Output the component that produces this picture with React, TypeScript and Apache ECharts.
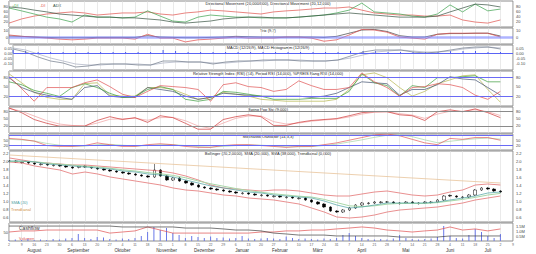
import React, { useEffect, useRef } from "react";
import * as echarts from "echarts";

// ---------- axis labels ----------
const WEEK_DAYS = ["2","9","16","23","30","6","13","20","27","4","11","18","25","1","8","15","22","29","6","13","20","27","3","10","17","24","31","7","14","21","28","7","14","21","28","4","11","18","25","2","9"];
const MONTH_NAMES = ["August","September","Oktober","November","Dezember","Januar","Februar","März","April","Mai","Juni","Juli"];
const MONTH_AT = [4, 11, 18, 25, 31, 37, 43, 49, 56, 63, 70, 76];

// ---------- panel 1: directional movement ----------
const P1_ADX = [77,73,65,58,50,46,42,38,38,35,35,31,27,19,15,19,23,31,35,38,38,35,35,38,42,46,50,54,50,46,42,38,38,38,42,58,73,88,85,77];
const P1_PDI = [73,62,50,38,31,19,46,38,38,35,38,62,42,23,19,38,46,42,38,38,35,35,35,38,42,46,54,65,92,58,54,50,42,38,50,85,58,88,62,69];
const P1_MDI = [15,31,42,50,54,58,54,46,50,54,54,58,50,46,54,58,65,62,58,54,50,58,62,65,69,73,73,77,65,54,50,46,46,42,42,46,27,19,15,27];

// ---------- panel 2: trix ----------
const P2_TRIX = [3,1,0,-1.5,-3,-4,-3,-1.5,-1.5,-1.5,-3,4,-1.5,-1.5,-7,-4,-3,-1.5,0,-1.5,-1.5,-1.5,0,0,-1.5,-6,-4,3,11,10,7,0,-1.5,-3,4,5.5,5.5,5.5,5.5,0];
const P2_SIGNAL = [1.5,1,0,-0.5,-1,-1,-1,-0.5,-0.5,-0.5,-0.5,2,0,-0.5,-1,-1,-0.5,0,1,0.5,0,0,0,0,0,-0.5,1,5.5,10,11,8,2,0,0,4,5,5,5.5,5.5,1.5];

// ---------- panel 3: MACD ----------
const P3_MACD = [0.04,0.01,-0.04,-0.08,-0.10,-0.14,-0.13,-0.11,-0.11,-0.11,-0.12,-0.12,-0.08,-0.08,-0.09,-0.09,-0.11,-0.09,-0.08,-0.08,-0.07,-0.07,-0.07,-0.08,-0.08,-0.08,-0.07,-0.03,0.01,0.03,0.03,0.03,0.01,0,0.01,0.03,0.05,0.06,0.06,0.04];
const P3_SIGNAL = [0.05,0.03,-0.01,-0.05,-0.08,-0.11,-0.12,-0.12,-0.11,-0.11,-0.11,-0.12,-0.10,-0.09,-0.09,-0.09,-0.10,-0.10,-0.09,-0.08,-0.08,-0.07,-0.07,-0.07,-0.08,-0.08,-0.07,-0.05,-0.02,0.01,0.02,0.03,0.02,0.01,0.01,0.02,0.04,0.05,0.06,0.05];
const P3_HIST = [0.03,0.02,0.01,0.01,0.01,0.01,0.01,0.01,0.01,0.01,0.01,0.01,0.03,0.02,0.01,0.01,0.01,0.01,0.01,0.01,0.01,0.01,0.01,0.01,0.01,0.01,0.01,0.02,0.02,0.02,0.01,0.01,0.01,0.01,0.01,0.02,0.02,0.02,0.01,0.01];

// ---------- panel 4: RSI family ----------
const P4_RSI = [82,45,5,48,48,48,63,72,51,27,17,36,54,51,48,42,5,57,63,51,48,36,42,69,54,42,42,48,94,66,48,21,48,51,60,57,48,24,11,36];
const P4_PERIOD = [66,57,39,30,20,48,60,48,30,17,20,42,51,42,11,5,11,36,33,27,21,11,11,11,14,14,14,36,91,63,54,21,54,48,79,79,82,85,66,66];
const P4_RANK = [91,63,33,17,11,11,60,63,24,21,21,48,48,42,27,11,17,33,27,21,11,8,5,5,5,5,11,42,88,94,79,48,21,36,60,72,85,88,42,2];
const P4_AVG = [79,48,33,24,17,11,48,54,21,17,17,48,42,36,21,11,17,30,27,24,21,21,21,21,17,21,30,48,66,63,60,24,42,42,57,82,75,72,48,24];

// ---------- panel 5: swing pop ----------
const P5_K = [96,76,47,31,19,19,19,43,59,47,55,35,63,55,31,6,6,47,59,67,59,22,22,35,43,47,51,63,76,80,80,67,63,43,80,88,80,92,76,55];
const P5_D = [94,82,62,42,28,22,20,32,48,50,52,44,55,56,42,20,10,32,52,62,62,38,28,32,40,45,49,58,70,78,80,72,66,52,70,82,82,88,80,64];

// ---------- panel 6: stochastic ----------
const P6_K = [60,55,45,20,15,15,20,35,25,15,15,25,30,25,15,10,10,20,25,25,20,15,10,15,15,25,35,50,65,80,85,75,55,35,25,60,55,65,65,50];
const P6_D = [55,52,46,32,22,17,17,25,27,22,17,20,25,25,20,14,11,15,20,23,22,18,13,13,14,20,28,40,52,66,78,80,70,52,36,44,52,58,62,56];

// ---------- panel 7: price ----------
const OPEN = [1.99,2.0,1.96,1.975,1.95,1.91,1.925,1.885,1.9,1.875,1.85,1.84,1.875,1.85,1.825,1.8,1.775,1.75,1.725,1.7,1.675,1.65,1.625,1.6,1.775,1.625,1.525,1.575,1.5,1.45,1.4,1.35,1.325,1.3,1.275,1.25,1.225,1.185,1.2,1.175,1.135,1.15,1.11,1.125,1.085,1.1,1.06,1.075,1.025,0.975,0.925,0.85,0.75,0.725,0.775,0.825,0.9,0.935,0.95,0.96,0.975,0.975,0.935,0.95,0.975,0.935,0.95,0.96,0.975,1.025,1.14,1.125,1.085,1.1,1.15,1.275,1.325,1.3,1.25];
const CLOSE = [2.0,1.975,1.975,1.95,1.925,1.925,1.9,1.9,1.875,1.85,1.825,1.875,1.85,1.825,1.8,1.775,1.75,1.725,1.7,1.675,1.65,1.625,1.6,1.775,1.625,1.525,1.575,1.5,1.45,1.4,1.35,1.325,1.3,1.275,1.25,1.225,1.2,1.2,1.175,1.15,1.15,1.125,1.125,1.1,1.1,1.075,1.075,1.025,0.975,0.925,0.85,0.75,0.725,0.775,0.825,0.9,0.95,0.95,0.975,0.975,0.975,0.95,0.95,0.975,0.95,0.95,0.975,0.975,1.025,1.125,1.125,1.1,1.1,1.15,1.275,1.325,1.3,1.25,1.225];
const HIGH = [2.025,2.025,2.0,2.0,1.975,1.95,1.95,1.925,1.925,1.9,1.875,1.9,1.9,1.875,1.85,1.825,1.8,1.775,1.75,1.725,1.7,1.675,1.65,1.925,1.8,1.65,1.6,1.6,1.525,1.475,1.425,1.375,1.35,1.325,1.3,1.275,1.25,1.225,1.225,1.2,1.175,1.175,1.15,1.15,1.125,1.125,1.1,1.1,1.05,1.0,0.95,0.875,0.775,0.8,0.85,0.925,0.975,0.975,1.0,1.0,1.0,1.0,0.975,1.0,1.0,0.975,1.0,1.0,1.05,1.15,1.165,1.15,1.125,1.175,1.3,1.35,1.35,1.325,1.275];
const LOW = [1.965,1.95,1.935,1.925,1.9,1.885,1.875,1.86,1.85,1.825,1.8,1.815,1.825,1.8,1.775,1.75,1.725,1.7,1.675,1.65,1.625,1.6,1.575,1.575,1.6,1.5,1.5,1.475,1.425,1.375,1.325,1.3,1.275,1.25,1.225,1.2,1.175,1.16,1.15,1.125,1.11,1.1,1.085,1.075,1.06,1.05,1.035,1.0,0.95,0.9,0.825,0.725,0.7,0.7,0.75,0.8,0.875,0.91,0.925,0.935,0.95,0.925,0.91,0.925,0.925,0.91,0.925,0.935,0.95,1.0,1.1,1.075,1.06,1.075,1.125,1.25,1.275,1.225,1.2];
const BB_UPPER = [2.075,2.025,1.975,1.95,1.925,1.9,1.9,1.875,1.85,1.825,1.8,1.775,1.75,1.7,1.625,1.525,1.4,1.325,1.3,1.275,1.25,1.275,1.275,1.25,1.2,1.15,1.125,1.125,1.175,1.225,1.25,1.2,1.15,1.125,1.15,1.225,1.275,1.4,1.425,1.4];
const BB_LOWER = [1.975,1.95,1.875,1.825,1.775,1.675,1.725,1.675,1.6,1.55,1.5,1.45,1.4,1.325,1.275,1.25,1.2,1.15,1.125,1.075,1.05,1.025,0.975,0.925,0.825,0.725,0.6,0.575,0.6,0.65,0.725,0.775,0.8,0.825,0.85,0.9,0.95,1.025,1.075,1.125];
const SMA_FAST = [2.0,2.0,1.975,1.925,1.9,1.875,1.85,1.825,1.8,1.75,1.725,1.675,1.65,1.6,1.525,1.45,1.375,1.325,1.275,1.225,1.2,1.15,1.125,1.1,1.075,1.0,0.9,0.825,0.85,0.9,0.95,0.95,0.95,0.95,0.975,1.025,1.075,1.125,1.2,1.225];
const SMA_SLOW = [1.99,1.99,1.98,1.95,1.92,1.9,1.87,1.85,1.82,1.78,1.75,1.71,1.68,1.64,1.58,1.5,1.43,1.37,1.31,1.26,1.22,1.18,1.15,1.12,1.1,1.04,0.96,0.88,0.86,0.88,0.92,0.94,0.94,0.94,0.96,1.0,1.04,1.09,1.15,1.19];
const TREND = [2.15,null,null,null,null,null,null,null,null,null,null,null,null,null,null,null,null,null,null,null,null,null,null,null,null,null,null,null,null,null,null,null,null,null,null,null,null,null,null,1.45];

// ---------- panel 8: volume ----------
const VOLUME = [100,150,100,200,100,150,100,200,150,250,300,700,300,200,400,350,200,150,250,200,300,500,900,1400,1100,1300,800,600,300,500,400,300,450,300,350,250,300,500,250,200,250,300,250,200,450,300,200,250,200,150,250,200,300,600,800,500,300,200,150,200,150,250,600,300,200,150,200,250,400,1500,500,300,250,600,1200,900,500,300,700];
const CASHFLOW = [83,83,83,83,83,83,83,83,83,78,78,78,78,78,72,72,72,67,61,61,56,44,39,33,33,33,28,28,28,28,28,22,22,22,22,28,28,28,28,28];
const VOL_AVG = [50,56,56,61,61,61,61,61,44,50,56,78,61,44,44,44,44,44,44,44,50,50,56,56,61,61,67,72,78,72,61,56,50,56,61,78,61,67,56,67];

const FONT = "'Liberation Sans', Arial, sans-serif";
const PANELS = [
  { top: 1, height: 26 },
  { top: 28, height: 16 },
  { top: 45, height: 25 },
  { top: 71, height: 35 },
  { top: 107, height: 26 },
  { top: 134, height: 16 },
  { top: 151, height: 71 },
  { top: 223, height: 18 },
];
const TITLES = [
  "Directional Movement (20,000/000), Directional Movement (20,12,000)",
  "Trix (9,7)",
  "MACD (12/26/9), MACD Histogramm (12/26/9)",
  "Relative Strength Index (RSI) (14), Period RSI (14,000), %PREIS Rang RSI (14,000)",
  "Swing Pop Sto (9,000)",
  "Stochastik Oszillator (14,3,3)",
  "Bollinger (20,2,0000), SMA (20,000), SMA (38,000), Trendkanal (0,000)",
];

function line(data: any[], x: number, y: number, color: string, width = 0.7, extra: any = {}) {
  return { type: "line", data, xAxisIndex: x, yAxisIndex: y, symbol: "none", silent: true, lineStyle: { color, width }, ...extra };
}
function levels(vals: number[], color: string, width = 1) {
  return {
    silent: true, symbol: "none", label: { show: false },
    lineStyle: { color, width, type: "solid" },
    data: vals.map((v) => ({ yAxis: v })),
  };
}

function buildOption(): any {
  const lineCats = WEEK_DAYS.map((_, i) => "w" + i);
  const candleCats = Array.from({ length: 81 }, (_, i) => "d" + i);
  const grid = PANELS.map((p) => ({
    left: 9, right: 23, top: p.top, height: p.height, show: true,
    borderColor: "#8c8c8c", borderWidth: 1, backgroundColor: "#fff",
  }));
  const xAxis: any[] = PANELS.map((_, i) => ({
    type: "category", gridIndex: i, data: lineCats, boundaryGap: false, position: "bottom",
    axisLine: { show: false }, axisTick: { show: false },
    axisLabel: i === 7
      ? { show: true, interval: 0, fontSize: 3.5, color: "#666", margin: 1.5, fontFamily: FONT, formatter: (_v: any, idx: number) => WEEK_DAYS[idx] }
      : { show: false },
    splitLine: { show: true, interval: 0, lineStyle: { color: "#dcdcdc", width: 0.6 } },
  }));
  xAxis.push({ type: "category", gridIndex: 6, data: candleCats, boundaryGap: false, position: "bottom", show: false });
  xAxis.push({
    type: "category", gridIndex: 7, data: candleCats, boundaryGap: false, position: "bottom", offset: 6,
    axisLine: { show: false }, axisTick: { show: false }, splitLine: { show: false },
    axisLabel: {
      show: true, interval: 0, fontSize: 4.5, color: "#333", margin: 1, fontFamily: FONT,
      formatter: (_v: any, idx: number) => { const k = MONTH_AT.indexOf(idx); return k >= 0 ? MONTH_NAMES[k] : ""; },
    },
  });

  const yDefs = [
    { min: 0, max: 100, ticks: [20, 40, 60, 80], fmt: (v: number) => String(v) },
    { min: -10, max: 13, ticks: [0, 10], fmt: (v: number) => String(v) },
    { min: -0.17, max: 0.08, ticks: [-0.1, -0.05, 0, 0.05], fmt: (v: number) => v.toFixed(2) },
    { min: -10, max: 100, ticks: [20, 50, 80], fmt: (v: number) => String(v) },
    { min: -10, max: 100, ticks: [20, 50, 80], fmt: (v: number) => String(v) },
    { min: -5, max: 85, ticks: [20, 50], fmt: (v: number) => String(v) },
    { min: 0.475, max: 2.25, ticks: [0.6, 0.8, 1.0, 1.2, 1.4, 1.6, 1.8, 2.0, 2.2], fmt: (v: number) => v.toFixed(1) },
    { min: 0, max: 100, ticks: [50], fmt: (v: number) => String(v) },
  ];
  const yAxis: any[] = [];
  yDefs.forEach((d, i) => {
    const common = (pos: string, dd: any) => ({
      type: "value", gridIndex: i, position: pos, min: dd.min, max: dd.max,
      axisLine: { show: false }, axisTick: { show: false }, splitLine: { show: false },
      axisLabel: { show: true, fontSize: 4, color: "#444", margin: pos === "right" ? 3 : 1, fontFamily: FONT, customValues: dd.ticks, formatter: dd.fmt },
    });
    if (i === 7) {
      yAxis.push(common("right", { min: 0, max: 1800, ticks: [500, 1000, 1500], fmt: (v: number) => (v / 1000).toFixed(1) + "M" }));
    } else {
      yAxis.push(common("right", d));
    }
    yAxis.push(common("left", d));
  });

  const series: any[] = [
    // panel 1
    line(P1_MDI, 0, 0, "#e0504a"),
    line(P1_PDI, 0, 0, "#3aa04a"),
    line(P1_ADX, 0, 0, "#35503f"),
    // panel 2
    line(P2_SIGNAL, 1, 2, "#444444", 0.7, { markLine: levels([0], "rgba(120,130,255,0.6)", 2.5) }),
    line(P2_TRIX, 1, 2, "#e04848"),
    // panel 3
    { type: "bar", data: P3_HIST, xAxisIndex: 2, yAxisIndex: 4, barWidth: 1, silent: true, itemStyle: { color: "#4a5cf0" } },
    line(P3_SIGNAL, 2, 4, "#a8aec0", 0.7, { markLine: levels([0], "#5a64f5", 1) }),
    line(P3_MACD, 2, 4, "#6f7888"),
    // panel 4
    line(P4_RANK, 3, 6, "#b4b44c", 0.7, { markLine: levels([80, 20], "#6a6af5", 1) }),
    line(P4_AVG, 3, 6, "#405070"),
    line(P4_PERIOD, 3, 6, "#3c9c3c"),
    line(P4_RSI, 3, 6, "#e05050"),
    // panel 5
    line(P5_D, 4, 8, "#f0a0a0", 0.7, { markLine: levels([80, 20], "#8a8a8a", 1) }),
    line(P5_K, 4, 8, "#d03838"),
    // panel 6
    line(P6_D, 5, 10, "#a8d4a8", 0.7, { markLine: levels([80, 20], "#6a6af5", 1) }),
    line(P6_K, 5, 10, "#e05a5a"),
    // panel 7
    line(TREND, 6, 12, "#e8c49a", 0.8, { connectNulls: true }),
    line(BB_UPPER, 6, 12, "#e06060"),
    line(BB_LOWER, 6, 12, "#e06060"),
    line(SMA_SLOW, 6, 12, "#a8d8a8", 1),
    line(SMA_FAST, 6, 12, "#4aa0a0", 0.7),
    {
      type: "candlestick", xAxisIndex: 8, yAxisIndex: 12, barWidth: 3, silent: true,
      data: OPEN.map((o, i) => [o, CLOSE[i], LOW[i], HIGH[i]]),
      itemStyle: { color: "#ffffff", color0: "#000000", borderColor: "#000000", borderColor0: "#000000", borderWidth: 0.5 },
    },
    // panel 8
    { type: "bar", data: VOLUME, xAxisIndex: 9, yAxisIndex: 14, barWidth: 1, silent: true, itemStyle: { color: "#6a78e8" } },
    line(VOL_AVG, 7, 15, "#e05050"),
    line(CASHFLOW, 7, 15, "#404040"),
  ];

  const graphic: any[] = TITLES.map((t, i) => ({
    type: "text", x: 268, y: PANELS[i].top + 0.5, silent: true,
    style: { text: t, fontSize: 4, fill: "#222", fontFamily: FONT, align: "center", verticalAlign: "top" },
  }));
  const small = (text: string, x: number, y: number, fill: string, size = 4) => ({
    type: "text", x, y, silent: true, style: { text, fontSize: size, fill, fontFamily: FONT, verticalAlign: "top" },
  });
  graphic.push(small("+DI", 12, 3, "#3aa04a"));
  graphic.push(small("-DI", 40, 3, "#e0504a"));
  graphic.push(small("ADX", 53, 3, "#35503f"));
  graphic.push(small("SMA (20)", 11, 200, "#4aa0a0"));
  graphic.push(small("Trendkanal", 11, 207, "#d09040"));
  graphic.push(small("Cashflow", 19, 225, "#333", 5));
  graphic.push(small("Volumen", 19, 236, "#e05050"));

  return { animation: false, backgroundColor: "#fff", grid, xAxis, yAxis, series, graphic };
}

export default function App() {
  const ref = useRef<HTMLDivElement>(null);
  useEffect(() => {
    if (!ref.current) return;
    const chart = echarts.init(ref.current, null, { renderer: "svg" });
    chart.setOption(buildOption());
    return () => chart.dispose();
  }, []);
  return (
    <div
      ref={ref}
      style={{ position: "fixed", left: 0, top: 0, width: 536, height: 254, background: "#fff" }}
    />
  );
}
